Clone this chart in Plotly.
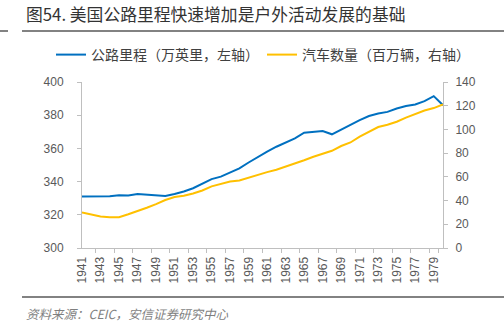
import plotly.graph_objects as go

years = [str(y) for y in range(1941, 1981)]
tick_years = [str(y) for y in range(1941, 1981, 2)]

road_miles = [331, 331, 331, 331.2, 331.8, 331.7, 332.5, 332.2, 332, 331.3,
              332.5, 334, 336, 339, 341.5, 343, 345.5, 348, 351.5, 355,
              358, 361, 363.5, 366, 369.5, 370, 370.5, 368.5, 371.5, 374,
              377, 379.5, 381, 382, 384, 385.5, 386.5, 388.5, 391.5, 386]

vehicles = [30, 28, 26.5, 26, 26, 28.5, 31, 34, 37, 40.5,
            43, 44, 46, 48.5, 52, 54, 56, 57, 59.5, 62,
            64, 66, 68.5, 71, 74, 77, 79.5, 82, 86, 89,
            94, 98, 102, 104, 106.5, 110, 113, 116, 118, 121]

name_road = "公路里程（万英里，左轴）"
name_veh = "汽车数量（百万辆，右轴）"

W, H = 504, 325
L, R, T, B = 82, 443, 82, 248

def px(x):
    return (x - L) / (R - L)

def py(y):
    return (B - y) / (B - T)

CJK = "Noto Sans CJK SC"
NUM = "Liberation Sans, Arial"

fig = go.Figure()
fig.add_trace(go.Scatter(x=years, y=road_miles, name=name_road, mode="lines",
                         line=dict(color="#0070C0", width=2), yaxis="y",
                         legend="legend"))
fig.add_trace(go.Scatter(x=years, y=vehicles, name=name_veh, mode="lines",
                         line=dict(color="#FFC000", width=2), yaxis="y2",
                         legend="legend2"))

axis_common = dict(showgrid=False, zeroline=False, showline=True,
                   linecolor="#BFBFBF", linewidth=1, ticks="outside",
                   ticklen=4, tickcolor="#BFBFBF",
                   tickfont=dict(family=NUM, size=12, color="#595959"))

legend_common = dict(orientation="h", y=py(55), xanchor="left", yanchor="middle",
                     font=dict(family=CJK, size=14, color="#404040"),
                     bgcolor="rgba(0,0,0,0)", itemwidth=30)

fig.update_layout(
    width=W, height=H,
    margin=dict(l=L, r=W - R, t=T, b=H - B, pad=0),
    paper_bgcolor="white", plot_bgcolor="white",
    showlegend=True,
    legend=dict(x=px(51), **legend_common),
    legend2=dict(x=px(262), **legend_common),
    xaxis=dict(type="category", tickmode="array", tickvals=tick_years, ticktext=tick_years,
               tickangle=-90, tickson="boundaries", ticklabelstandoff=3, **axis_common),
    yaxis=dict(range=[300, 400], dtick=20, ticklabelstandoff=11, **axis_common),
    yaxis2=dict(range=[0, 140], dtick=20, overlaying="y", side="right",
                ticklabelstandoff=5, **axis_common),
)

# Title and decorations
fig.add_annotation(text="图54. 美国公路里程快速增加是户外活动发展的基础",
                   xref="paper", yref="paper", x=px(24), y=py(14),
                   xanchor="left", yanchor="middle", showarrow=False,
                   font=dict(family=CJK, size=16.8, color="#333333"))
fig.add_shape(type="line", xref="paper", yref="paper", x0=px(22), x1=px(504),
              y0=py(31), y1=py(31), line=dict(color="#595959", width=1.5))
fig.add_shape(type="line", xref="paper", yref="paper", x0=px(0), x1=px(8),
              y0=py(31), y1=py(31), line=dict(color="#595959", width=1.5))
fig.add_shape(type="line", xref="paper", yref="paper", x0=px(22), x1=px(504),
              y0=py(297), y1=py(297), line=dict(color="#595959", width=1.5))
fig.add_annotation(text="<i>资料来源：CEIC，安信证券研究中心</i>",
                   xref="paper", yref="paper", x=px(24), y=py(313),
                   xanchor="left", yanchor="middle", showarrow=False,
                   font=dict(family=CJK, size=12.5, color="#7F7F7F"))

fig.write_html("out.html")
